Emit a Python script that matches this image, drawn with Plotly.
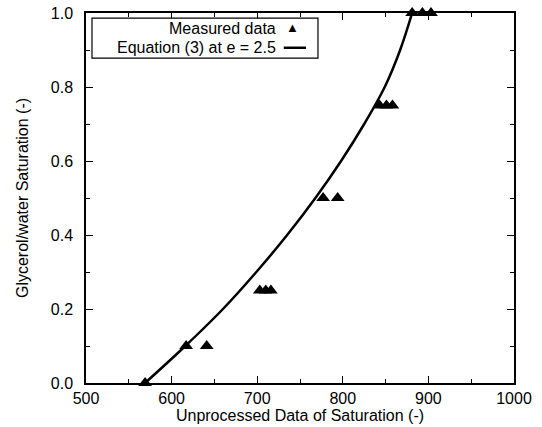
import plotly.graph_objects as go

# Measured saturation points: raw reading vs. glycerol/water saturation
measured_raw = [569, 617, 641, 703, 710, 716, 777, 794, 843, 851, 858, 881, 893, 903]
measured_sat = [0.0, 0.1, 0.1, 0.25, 0.25, 0.25, 0.5, 0.5, 0.75, 0.75, 0.75, 1.0, 1.0, 1.0]

# Equation (3) at e = 2.5, tabulated
eq_sat = [0.0, 0.1, 0.2, 0.3, 0.4, 0.5, 0.6, 0.7, 0.8, 0.9, 1.0]
eq_raw = [569, 616, 660, 699, 735, 768, 798, 825, 849, 867, 881]

x_ticks = [500, 600, 700, 800, 900, 1000]
y_ticks = [0.0, 0.2, 0.4, 0.6, 0.8, 1.0]

FONT = "Liberation Sans, Arial, sans-serif"

fig = go.Figure()
fig.add_trace(go.Scatter(
    x=eq_raw, y=eq_sat, mode="lines",
    line=dict(color="black", width=2.5, shape="spline"),
    showlegend=False, cliponaxis=False,
))
fig.add_trace(go.Scatter(
    x=measured_raw, y=measured_sat, mode="markers",
    marker=dict(symbol="triangle-up", size=12, color="black"),
    showlegend=False, cliponaxis=False,
))

axis_common = dict(
    showline=True, linecolor="black", linewidth=1.5, mirror="ticks",
    ticks="inside", ticklen=7, tickwidth=1, tickcolor="black",
    showgrid=False, zeroline=False, automargin=False,
    tickfont=dict(family=FONT, size=16, color="black"),
    title_font=dict(family=FONT, size=16, color="black"),
)

fig.update_xaxes(
    range=[500, 1000], tickvals=x_ticks, ticktext=[str(v) for v in x_ticks],
    minor=dict(ticks="inside", ticklen=4, dtick=50, tickcolor="black"),
    title_text="Unprocessed Data of Saturation (-)", title_standoff=2,
    ticklabelstandoff=0,
    **axis_common,
)
fig.update_yaxes(
    range=[0, 1], tickvals=y_ticks, ticktext=[f"{v:.1f}" for v in y_ticks],
    minor=dict(ticks="inside", ticklen=4, dtick=0.1, tickcolor="black"),
    title_text="Glycerol/water Saturation (-)", title_standoff=18,
    ticklabelstandoff=8,
    **axis_common,
)

# Legend box with right-aligned labels and symbols on the right
fig.add_shape(type="rect", xref="paper", yref="paper",
              x0=0.014, x1=0.542, y0=0.878, y1=0.986,
              line=dict(color="black", width=1.2), fillcolor="white")
fig.add_annotation(xref="paper", yref="paper", x=0.448, y=0.959,
                   text="Measured data", showarrow=False,
                   xanchor="right", yanchor="middle",
                   font=dict(family=FONT, size=16, color="black"))
fig.add_annotation(xref="paper", yref="paper", x=0.448, y=0.906,
                   text="Equation (3) at e = 2.5", showarrow=False,
                   xanchor="right", yanchor="middle",
                   font=dict(family=FONT, size=16, color="black"))
fig.add_annotation(xref="paper", yref="paper", x=0.483, y=0.961,
                   text="▲", showarrow=False,
                   xanchor="center", yanchor="middle",
                   font=dict(family=FONT, size=13, color="black"))
fig.add_shape(type="line", xref="paper", yref="paper",
              x0=0.462, x1=0.514, y0=0.906, y1=0.906,
              line=dict(color="black", width=2.5))

fig.update_layout(
    width=542, height=427,
    margin=dict(l=86, r=28, t=13, b=44),
    plot_bgcolor="white", paper_bgcolor="white",
    font=dict(family=FONT, size=16, color="black"),
)

fig.write_html("out.html")
